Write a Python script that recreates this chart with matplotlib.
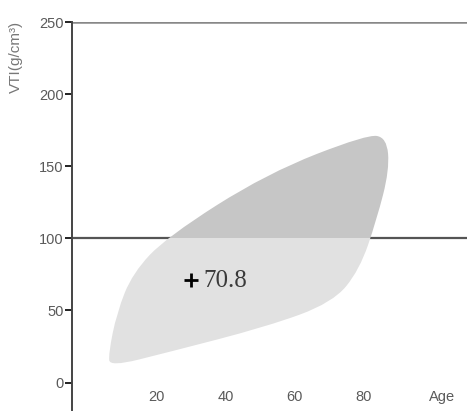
import matplotlib
matplotlib.use('Agg')
import matplotlib.pyplot as plt
from matplotlib.path import Path
from matplotlib.patches import PathPatch, Rectangle
import numpy as np

# outline of the reference region (age, VTI)
region_age = [6.4, 22.9, 51.9, 71.0, 78.8, 83.8, 87.5, 86.7, 80.9, 51.9, 22.9, 13.0, 8.4, 6.0]
region_vti = [11.0, 20.8, 38.8, 55.4, 78.0, 113.0, 147.5, 170.0, 172.0, 145.0, 101.0, 76.0, 48.5, 20.0]
cut_value = 100
top_value = 250
point_age, point_vti = 30.0, 70.8
point_label = '70.8'
yticks = [0, 50, 100, 150, 200, 250]
xticks = [20, 40, 60, 80]

fig = plt.figure(figsize=(4.67, 4.11), dpi=100)
ax = fig.add_axes([72 / 467, 1 / 411, 1 - 72 / 467, 388 / 411])
ax.set_xlim(-4.6, 110)
ax.set_ylim(-19, 250)

# smooth closed outline: vertices as control points, midpoints on the curve
pts = np.column_stack([region_age, region_vti])
mids = (pts + np.roll(pts, -1, axis=0)) / 2
verts = [mids[-1]]
codes = [Path.MOVETO]
for i in range(len(pts)):
    verts += [pts[i], mids[i]]
    codes += [Path.CURVE3, Path.CURVE3]
outline = Path(verts, codes)

for lo, hi, col in [(-50, cut_value, '#e1e1e1'), (cut_value, 300, '#c6c6c6')]:
    patch = PathPatch(outline, facecolor=col, edgecolor='none', zorder=3)
    ax.add_patch(patch)
    clip = Rectangle((-10, lo), 130, hi - lo, transform=ax.transData)
    patch.set_clip_path(clip)

ax.axhline(cut_value, color='#555555', lw=1.6, zorder=2)
ax.axhline(top_value, color='#888888', lw=1.8, zorder=2)

ax.plot(point_age, point_vti, marker='+', color='black', ms=10, mew=2, zorder=5)
ax.text(point_age + 3.4, point_vti - 0.5, point_label, family='Liberation Serif',
        fontsize=18, color='#3a3a3a', va='center', ha='left', zorder=5)

for s in ['top', 'right', 'bottom']:
    ax.spines[s].set_visible(False)
ax.spines['left'].set_color('#444444')
ax.spines['left'].set_linewidth(1.4)
ax.spines['bottom'].set_position(('data', -4))

ax.set_yticks(yticks)
ax.set_xticks(xticks)
for lab in ax.get_xticklabels() + ax.get_yticklabels():
    lab.set_family('Liberation Sans')
ax.tick_params(axis='y', length=5, width=1.4, color='#222222', labelsize=10.5,
               labelcolor='#5a5a5a', pad=1)
ax.tick_params(axis='x', length=0, labelsize=10.5, labelcolor='#5a5a5a', pad=1)

ax.text(102.9, -9.7, 'Age', family='Liberation Sans', fontsize=10.5,
        color='#5a5a5a', ha='center', va='center')
fig.text(16 / 467, 1 - 57 / 411, 'VTI(g/cm³)', rotation=90, family='Liberation Sans',
         fontsize=11, color='#777777', ha='center', va='center')

fig.savefig('out.png', dpi=100)
